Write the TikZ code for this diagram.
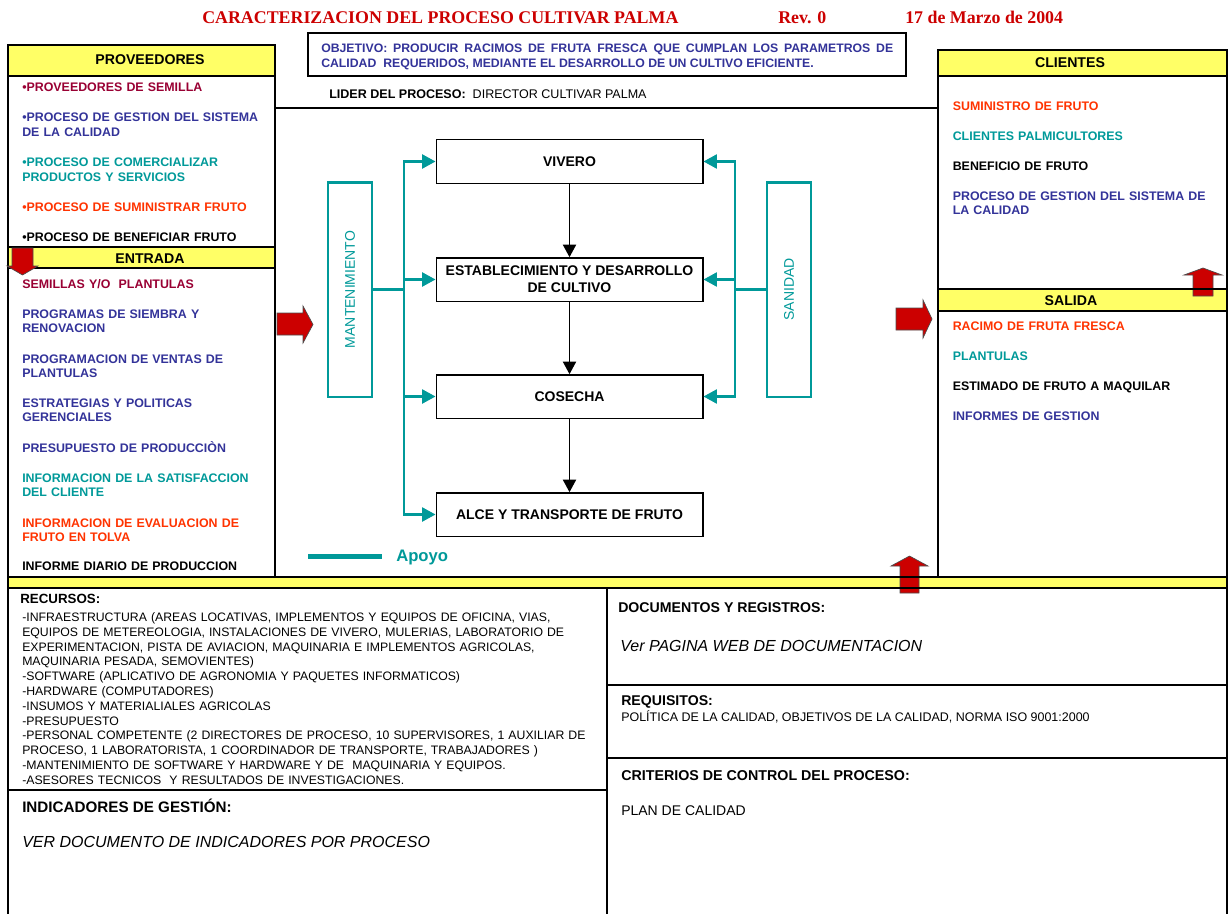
\documentclass[tikz,border=0pt]{standalone}
\usepackage{fontspec}
\setmainfont{Liberation Sans}
\newfontfamily\serifbf{Liberation Serif}
\usetikzlibrary{arrows.meta}

\definecolor{tealc}{HTML}{009999}
\definecolor{bluec}{HTML}{333399}
\definecolor{dredc}{HTML}{990033}
\definecolor{oredc}{HTML}{FF3300}
\definecolor{hdryellow}{HTML}{FFFF66}
\definecolor{arrowred}{HTML}{CC0000}
\definecolor{titlered}{HTML}{CC0000}

\tikzset{
  frame/.style={line width=1.9pt, line cap=rect},
  hdrtext/.style={font=\fontsize{10.6}{12}\selectfont\bfseries, inner sep=0},
  item/.style={anchor=base west, inner sep=0, text width=200pt, align=left,
    font=\fontsize{9.3}{11}\selectfont\bfseries},
  plain/.style={anchor=base west, inner sep=0, align=left},
  titletext/.style={plain, text=titlered,
    font=\serifbf\fontsize{13.4}{15}\selectfont\bfseries},
  flow/.style={draw, line width=1pt, fill=white, minimum width=200pt,
    minimum height=32.5pt, inner sep=0, align=center,
    font=\fontsize{10.5}{12.5}\selectfont\bfseries},
  supportbox/.style={draw=tealc, line width=2pt, minimum width=33pt,
    minimum height=161pt, inner sep=0},
  supporttext/.style={rotate=90, text=tealc, inner sep=0,
    font=\fontsize{10.5}{12}\selectfont},
  flowarrow/.style={line width=1pt, -{Triangle[length=9.5pt,width=10pt]}},
  tealarrow/.style={draw=tealc, line width=1.6pt,
    -{Triangle[length=10pt,width=10.5pt]}, tealc},
  bigarrow/.style={fill=arrowred, draw=black!70, line width=0.5pt},
}

\begin{document}
\begin{tikzpicture}[x=0.75pt,y=-0.75pt]
\useasboundingbox (0,0) rectangle (1230,913);

% ---------- title line ----------
\node[titletext] (title) at (202,23.5) {CARACTERIZACION DEL PROCESO CULTIVAR PALMA};
\node[titletext] (rev) at (778,23.5) {Rev. 0};
\node[titletext] (date) at (905,23.5) {17 de Marzo de 2004};

% ---------- header fills ----------
\fill[hdryellow] (8,45) rectangle (275,76);
\fill[hdryellow] (8,247) rectangle (275,268);
\fill[hdryellow] (938,50) rectangle (1227,76);
\fill[hdryellow] (938,289) rectangle (1227,311);
\fill[hdryellow] (8,577) rectangle (1227,588);

% red block arrows lying under the frame lines
\draw[bigarrow] (900,593) -- (900,566) -- (891,566) -- (909.5,556) -- (928,566)
  -- (919,566) -- (919,593) -- cycle;
\draw[bigarrow] (1193,296) -- (1193,275) -- (1184,275) -- (1203,268) -- (1222,275)
  -- (1213,275) -- (1213,296) -- cycle;

% ---------- frames ----------
\draw[frame] (8,45) rectangle (275,577);
\draw[frame] (8,76) -- (275,76);
\draw[frame] (8,247) -- (275,247);
\draw[frame] (8,268) -- (275,268);
\draw[frame] (938,50) rectangle (1227,577);
\draw[frame] (938,76) -- (1227,76);
\draw[frame] (938,289) -- (1227,289);
\draw[frame] (938,311) -- (1227,311);
\draw[frame] (275,108) -- (938,108);
\draw[frame] (8,577) -- (1227,577);
\draw[frame] (8,588) -- (1227,588);
\draw[frame] (8,577) -- (8,914);
\draw[frame] (1227,577) -- (1227,914);
\draw[frame] (607,588) -- (607,914);
\draw[frame] (8,790) -- (607,790);
\draw[frame] (607,685) -- (1227,685);
\draw[frame] (607,758) -- (1227,758);

% objective box
\node[draw, line width=0.9pt, minimum width=448.5pt, minimum height=32.25pt, inner sep=0]
  (objbox) at (607,54.5) {};
\node[anchor=base west, inner sep=0, text width=429pt, align=justify, text=bluec,
  font=\fontsize{9.2}{11.25}\selectfont\bfseries] (obj) at (321,52.4)
  {OBJETIVO: PRODUCIR RACIMOS DE FRUTA FRESCA QUE CUMPLAN LOS PARAMETROS DE\linebreak
   CALIDAD \ REQUERIDOS, MEDIANTE EL DESARROLLO DE UN CULTIVO EFICIENTE.};

\node[plain, font=\fontsize{9.4}{10}\selectfont] (lider) at (329,99)
  {\textbf{LIDER DEL PROCESO:} \ DIRECTOR CULTIVAR PALMA};

% ---------- header titles ----------
\node[hdrtext] (hprov) at (150,59.5) {PROVEEDORES};
\node[hdrtext] (hent) at (150,258.5) {ENTRADA};
\node[hdrtext] (hcli) at (1070,63) {CLIENTES};
\node[hdrtext] (hsal) at (1071,300.5) {SALIDA};

% ---------- suppliers ----------
\node[item, text=dredc] (p1) at (22,92) {•PROVEEDORES DE SEMILLA};
\node[item, text=bluec] (p2) at (22,122) {•PROCESO DE GESTION DEL SISTEMA\\DE LA CALIDAD};
\node[item, text=tealc] (p3) at (22,166.5) {•PROCESO DE COMERCIALIZAR\\PRODUCTOS Y SERVICIOS};
\node[item, text=oredc] (p4) at (22,211) {•PROCESO DE SUMINISTRAR FRUTO};
\node[item] (p5) at (22,241) {•PROCESO DE BENEFICIAR FRUTO};

% ---------- inputs ----------
\node[item, text=dredc] (e1) at (22,288.3) {SEMILLAS Y/O \ PLANTULAS};
\node[item, text=bluec] (e2) at (22,318.3) {PROGRAMAS DE SIEMBRA Y\\RENOVACION};
\node[item, text=bluec] (e3) at (22,363.3) {PROGRAMACION DE VENTAS DE\\PLANTULAS};
\node[item, text=bluec] (e4) at (22,407.3) {ESTRATEGIAS Y POLITICAS\\GERENCIALES};
\node[item, text=bluec] (e5) at (22,452.3) {PRESUPUESTO DE PRODUCCIÒN};
\node[item, text=tealc] (e6) at (22,482.3) {INFORMACION DE LA SATISFACCION\\DEL CLIENTE};
\node[item, text=oredc] (e7) at (22,527.3) {INFORMACION DE EVALUACION DE\\FRUTO EN TOLVA};
\node[item] (e8) at (22,570.7) {INFORME DIARIO DE PRODUCCION};

% ---------- clients ----------
\node[item, text=oredc] (c1) at (952.5,111) {SUMINISTRO DE FRUTO};
\node[item, text=tealc] (c2) at (952.5,141) {CLIENTES PALMICULTORES};
\node[item] (c3) at (952.5,171) {BENEFICIO DE FRUTO};
\node[item, text=bluec, text width=210pt] (c4) at (952.5,200)
  {PROCESO DE GESTION DEL SISTEMA DE\\LA CALIDAD};

% ---------- outputs ----------
\node[item, text=oredc] (s1) at (952.5,330.7) {RACIMO DE FRUTA FRESCA};
\node[item, text=tealc] (s2) at (952.5,360.7) {PLANTULAS};
\node[item] (s3) at (952.5,390) {ESTIMADO DE FRUTO A MAQUILAR};
\node[item, text=bluec] (s4) at (952.5,420) {INFORMES DE GESTION};

% red block arrows drawn over the frames
\draw[bigarrow] (12,248) -- (33,248) -- (33,266) -- (38,266) -- (22.5,275)
  -- (7,266) -- (12,266) -- cycle;
\draw[bigarrow] (277,313) -- (303,313) -- (303,306) -- (313,324.5) -- (303,343)
  -- (303,335) -- (277,335) -- cycle;
\draw[bigarrow] (896,308) -- (923,308) -- (923,300) -- (932,319) -- (923,338)
  -- (923,330) -- (896,330) -- cycle;

% ---------- process flow ----------
\node[flow] (viv) at (569.5,161.5) {VIVERO};
\node[flow] (est) at (569.5,279.5) {ESTABLECIMIENTO Y DESARROLLO\\DE CULTIVO};
\node[flow] (cos) at (569.5,396.5) {COSECHA};
\node[flow] (alc) at (569.5,514.5) {ALCE Y TRANSPORTE DE FRUTO};

\draw[flowarrow] (viv) -- (est);
\draw[flowarrow] (est) -- (cos);
\draw[flowarrow] (cos) -- (alc);

% support processes
\node[supportbox] (mant) at (350,289.5) {};
\node[supporttext] (manttxt) at (mant.center) {MANTENIMIENTO};
\node[supportbox] (san) at (789,289.5) {};
\node[supporttext] (santxt) at (san.center) {SANIDAD};

\coordinate (mj) at (404,289.5);
\coordinate (sj) at (735,289.5);
\draw[tealarrow] (mant.east) -- (mj) |- (viv.west);
\draw[tealarrow] (mj) |- (est.west);
\draw[tealarrow] (mj) |- (cos.west);
\draw[tealarrow] (mj) |- (alc.west);
\draw[tealarrow] (san.west) -- (sj) |- (viv.east);
\draw[tealarrow] (sj) |- (est.east);
\draw[tealarrow] (sj) |- (cos.east);

% legend
\node[fill=tealc, minimum width=55.5pt, minimum height=3.75pt, inner sep=0]
  (swatch) at (345,556) {};
\node[anchor=west, inner sep=0, text=tealc, font=\fontsize{12.5}{14}\selectfont\bfseries]
  (apoyo) at (396,557) {Apoyo};

% ---------- bottom panels ----------
\node[plain, font=\fontsize{10}{12}\selectfont\bfseries] (rec) at (20,603) {RECURSOS:};
\node[plain, text width=440pt, font=\fontsize{9.2}{11.1}\selectfont] (reclist) at (22,621.5)
  {-INFRAESTRUCTURA (AREAS LOCATIVAS, IMPLEMENTOS Y EQUIPOS DE OFICINA, VIAS,\\
   EQUIPOS DE METEREOLOGIA, INSTALACIONES DE VIVERO, MULERIAS, LABORATORIO DE\\
   EXPERIMENTACION, PISTA DE AVIACION, MAQUINARIA E IMPLEMENTOS AGRICOLAS,\\
   MAQUINARIA PESADA, SEMOVIENTES)\\
   -SOFTWARE (APLICATIVO DE AGRONOMIA Y PAQUETES INFORMATICOS)\\
   -HARDWARE (COMPUTADORES)\\
   -INSUMOS Y MATERIALIALES AGRICOLAS\\
   -PRESUPUESTO\\
   -PERSONAL COMPETENTE (2 DIRECTORES DE PROCESO, 10 SUPERVISORES, 1 AUXILIAR DE\\
   PROCESO, 1 LABORATORISTA, 1 COORDINADOR DE TRANSPORTE, TRABAJADORES )\\
   -MANTENIMIENTO DE SOFTWARE Y HARDWARE Y DE \ MAQUINARIA Y EQUIPOS.\\
   -ASESORES TECNICOS \ Y RESULTADOS DE INVESTIGACIONES.};

\node[plain, font=\fontsize{11.4}{13}\selectfont\bfseries] (ind) at (22,812.5)
  {INDICADORES DE GESTIÓN:};
\node[plain, font=\fontsize{12}{14}\selectfont\itshape] (indtxt) at (22,847.5)
  {VER DOCUMENTO DE INDICADORES POR PROCESO};

\node[plain, font=\fontsize{10.6}{12}\selectfont\bfseries] (doc) at (618,612.5)
  {DOCUMENTOS Y REGISTROS:};
\node[plain, font=\fontsize{12}{14}\selectfont\itshape] (doctxt) at (620,651)
  {Ver PAGINA WEB DE DOCUMENTACION};

\node[plain, font=\fontsize{10.6}{12}\selectfont\bfseries] (req) at (621,705)
  {REQUISITOS:};
\node[plain, font=\fontsize{9.35}{10}\selectfont] (reqtxt) at (621,721)
  {POLÍTICA DE LA CALIDAD, OBJETIVOS DE LA CALIDAD, NORMA ISO 9001:2000};

\node[plain, font=\fontsize{10.7}{12}\selectfont\bfseries] (crit) at (621,780)
  {CRITERIOS DE CONTROL DEL PROCESO:};
\node[plain, font=\fontsize{10.5}{12}\selectfont] (crittxt) at (621,815)
  {PLAN DE CALIDAD};

\end{tikzpicture}
\end{document}
